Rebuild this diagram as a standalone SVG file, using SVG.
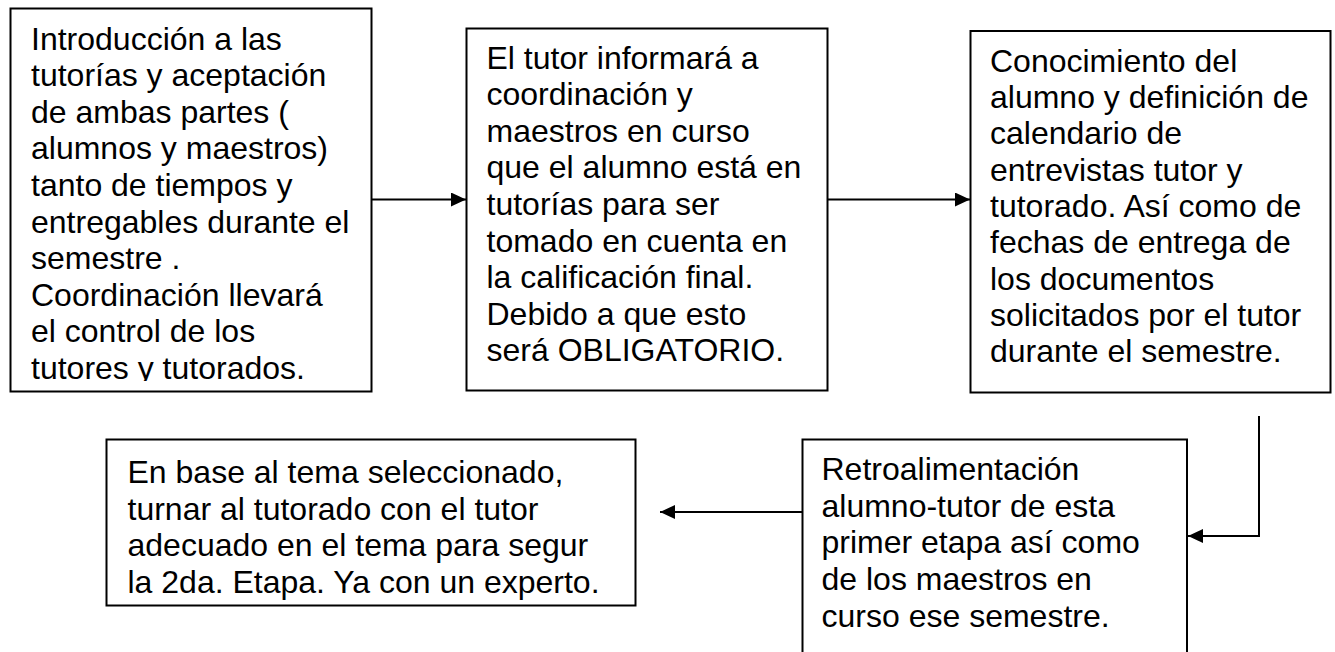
<svg xmlns="http://www.w3.org/2000/svg" width="1335" height="652" viewBox="0 0 1335 652">
<style>
.box{fill:#fff;stroke:#000;stroke-width:2}
.t{font-family:"Liberation Sans",Arial,sans-serif;font-size:32px;fill:#000}
.c{fill:none;stroke:#000;stroke-width:2}
</style>
<defs>
<marker id="ah" markerUnits="userSpaceOnUse" markerWidth="15" markerHeight="14" refX="15" refY="7" orient="auto">
<path d="M0,0 L15,7 L0,14 z" fill="#000"/>
</marker>
<clipPath id="clip1"><rect x="10" y="8" width="362" height="373"/></clipPath>
</defs>
<rect width="1335" height="652" fill="#fff"/>
<g id="connectors">
<line class="c" x1="372" y1="199.5" x2="466" y2="199.5" marker-end="url(#ah)"/>
<line class="c" x1="828" y1="199.5" x2="970" y2="199.5" marker-end="url(#ah)"/>
<polyline class="c" points="1259,416 1259,536 1188,536" marker-end="url(#ah)"/>
<line class="c" x1="802" y1="512" x2="660" y2="512" marker-end="url(#ah)"/>
</g>
<g id="n1">
<rect class="box" x="10.5" y="8.5" width="361" height="383"/>
<text class="t" clip-path="url(#clip1)">
<tspan x="31" y="49.5">Introducción a las</tspan>
<tspan x="31" y="86.1">tutorías y aceptación</tspan>
<tspan x="31" y="122.7">de ambas partes (</tspan>
<tspan x="31" y="159.3">alumnos y maestros)</tspan>
<tspan x="31" y="195.9">tanto de tiempos y</tspan>
<tspan x="31" y="232.5">entregables durante el</tspan>
<tspan x="31" y="269.1">semestre .</tspan>
<tspan x="31" y="305.7">Coordinación llevará</tspan>
<tspan x="31" y="342.3">el control de los</tspan>
<tspan x="31" y="378.9">tutores y tutorados.</tspan>
</text>
</g>
<g id="n2">
<rect class="box" x="466.5" y="28.5" width="361" height="362"/>
<text class="t">
<tspan x="486.5" y="68.5">El tutor informará a</tspan>
<tspan x="486.5" y="105.1">coordinación y</tspan>
<tspan x="486.5" y="141.7">maestros en curso</tspan>
<tspan x="486.5" y="178.3">que el alumno está en</tspan>
<tspan x="486.5" y="214.9">tutorías para ser</tspan>
<tspan x="486.5" y="251.5">tomado en cuenta en</tspan>
<tspan x="486.5" y="288.1">la calificación final.</tspan>
<tspan x="486.5" y="324.7">Debido a que esto</tspan>
<tspan x="486.5" y="361.3">será OBLIGATORIO.</tspan>
</text>
</g>
<g id="n3">
<rect class="box" x="970.5" y="31" width="360" height="361.5"/>
<text class="t">
<tspan x="990" y="71.7">Conocimiento del</tspan>
<tspan x="990" y="108">alumno y definición de</tspan>
<tspan x="990" y="144.3">calendario de</tspan>
<tspan x="990" y="180.6">entrevistas tutor y</tspan>
<tspan x="990" y="216.9">tutorado. Así como de</tspan>
<tspan x="990" y="253.2">fechas de entrega de</tspan>
<tspan x="990" y="289.5">los documentos</tspan>
<tspan x="990" y="325.8">solicitados por el tutor</tspan>
<tspan x="990" y="362.1">durante el semestre.</tspan>
</text>
</g>
<g id="n4">
<rect class="box" x="106.5" y="439.5" width="529" height="166"/>
<text class="t">
<tspan x="127.5" y="483">En base al tema seleccionado,</tspan>
<tspan x="127.5" y="519.6">turnar al tutorado con el tutor</tspan>
<tspan x="127.5" y="556.2">adecuado en el tema para segur</tspan>
<tspan x="127.5" y="592.8">la 2da. Etapa. Ya con un experto.</tspan>
</text>
</g>
<g id="n5">
<rect class="box" x="802.5" y="439.5" width="384.5" height="230"/>
<text class="t">
<tspan x="821.5" y="480">Retroalimentación</tspan>
<tspan x="821.5" y="516.7">alumno-tutor de esta</tspan>
<tspan x="821.5" y="553.4">primer etapa así como</tspan>
<tspan x="821.5" y="590.1">de los maestros en</tspan>
<tspan x="821.5" y="626.8">curso ese semestre.</tspan>
</text>
</g>
</svg>
